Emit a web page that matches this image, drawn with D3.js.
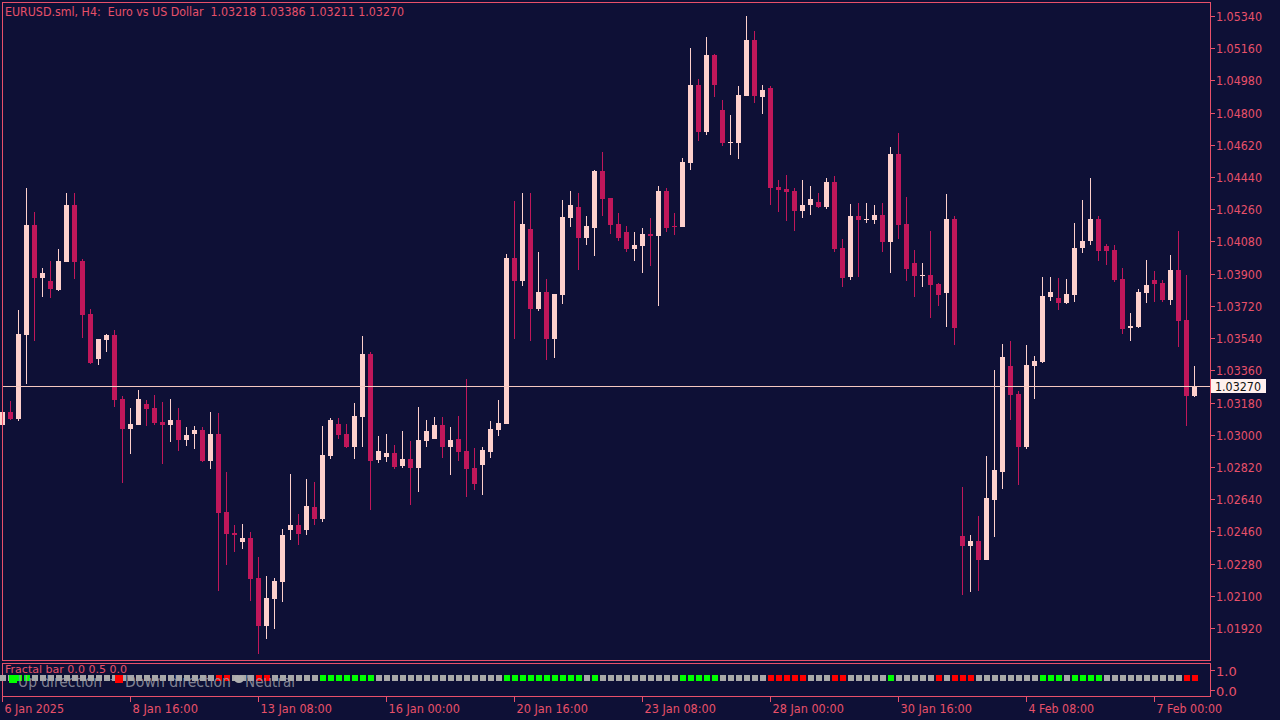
<!DOCTYPE html>
<html><head><meta charset="utf-8">
<script src="https://cdn.jsdelivr.net/npm/d3@7"></script>
<style>body{margin:0;background:#0e1036;}svg{display:block;}</style>
</head><body><svg id="c" width="1280" height="720"></svg>
<script>
const open=[1.03054,1.03127,1.03088,1.03557,1.04172,1.03876,1.03859,1.03809,1.03965,1.04284,
1.03971,1.03674,1.03423,1.03529,1.03557,1.03199,1.03032,1.03054,1.03171,1.03149,
1.03071,1.03054,1.03082,1.02970,1.03004,1.03026,1.02853,1.03004,1.02568,1.02451,
1.02400,1.02423,1.02199,1.01931,1.02082,1.02177,1.02467,1.02495,1.02467,1.02596,
1.02529,1.02881,1.03060,1.03004,1.02931,1.03099,1.03451,1.02859,1.02875,1.02898,
1.02825,1.02864,1.02814,1.02965,1.02976,1.03054,1.02931,1.02976,1.02909,1.02814,
1.02831,1.02903,1.03026,1.03060,1.03987,1.03859,1.04149,1.03702,1.03797,1.03535,
1.03781,1.04211,1.04272,1.04099,1.04155,1.04473,1.04323,1.04177,1.04133,1.04038,
1.04054,1.04121,1.04110,1.04362,1.04166,1.04161,1.04518,1.04954,1.04691,1.05122,
1.04814,1.04633,1.04630,1.04893,1.05206,1.04887,1.04937,1.04384,1.04373,1.04362,
1.04250,1.04284,1.04300,1.04272,1.04412,1.04043,1.03881,1.04222,1.04202,1.04200,
1.04228,1.04077,1.04568,1.04177,1.03959,1.03890,1.03892,1.03842,1.03792,1.04205,
1.02434,1.02378,1.02406,1.02300,1.02635,1.02791,1.03384,1.03227,1.02931,1.03384,
1.03406,1.03769,1.03764,1.03736,1.03781,1.04043,1.04082,1.04205,1.04054,1.04032,
1.03870,1.03596,1.03602,1.03792,1.03864,1.03848,1.03753,1.03920,1.03641,1.03218];
const high=[1.03166,1.03188,1.03697,1.04379,1.04244,1.03931,1.03971,1.04038,1.04351,1.04351,
1.03982,1.03702,1.03535,1.03563,1.03585,1.03216,1.03149,1.03250,1.03194,1.03222,
1.03183,1.03199,1.03149,1.03043,1.03049,1.03043,1.03127,1.03121,1.02791,1.02495,
1.02501,1.02456,1.02316,1.02210,1.02199,1.02473,1.02780,1.02557,1.02752,1.02736,
1.03049,1.03093,1.03093,1.03060,1.03177,1.03551,1.03462,1.02993,1.03004,1.02942,
1.03021,1.02965,1.03155,1.03082,1.03099,1.03099,1.03043,1.03104,1.03311,1.02926,
1.02931,1.03077,1.03194,1.04010,1.04306,1.04351,1.04351,1.04021,1.03870,1.03786,
1.04311,1.04362,1.04351,1.04222,1.04479,1.04580,1.04323,1.04239,1.04166,1.04133,
1.04155,1.04211,1.04390,1.04379,1.04239,1.04546,1.05161,1.04988,1.05222,1.05127,
1.04870,1.04786,1.04948,1.05340,1.05256,1.04954,1.04948,1.04423,1.04451,1.04379,
1.04423,1.04390,1.04351,1.04434,1.04446,1.04094,1.04289,1.04295,1.04295,1.04284,
1.04295,1.04608,1.04686,1.04328,1.04032,1.03959,1.04138,1.03848,1.04345,1.04222,
1.02708,1.02439,1.02546,1.02881,1.03361,1.03507,1.03524,1.03244,1.03501,1.03440,
1.03881,1.03881,1.03876,1.03870,1.04183,1.04311,1.04434,1.04222,1.04066,1.04060,
1.03931,1.03680,1.03814,1.03976,1.03915,1.03864,1.04004,1.04138,1.03892,1.03386];
const low=[1.03054,1.03082,1.03077,1.03283,1.03524,1.03769,1.03764,1.03803,1.03965,1.03870,
1.03540,1.03395,1.03389,1.03462,1.03155,1.02730,1.02892,1.03054,1.03049,1.03054,
1.02836,1.02959,1.02909,1.02937,1.02920,1.02847,1.02808,1.02126,1.02272,1.02344,
1.02361,1.02071,1.01775,1.01858,1.01914,1.02065,1.02412,1.02384,1.02439,1.02495,
1.02512,1.02864,1.02976,1.02926,1.02864,1.02931,1.02579,1.02842,1.02847,1.02808,
1.02814,1.02607,1.02680,1.02931,1.02976,1.02870,1.02775,1.02853,1.02652,1.02691,
1.02663,1.02870,1.02993,1.03060,1.03535,1.03831,1.03524,1.03691,1.03417,1.03429,
1.03730,1.04161,1.03920,1.04060,1.03998,1.04222,1.04121,1.04082,1.04021,1.03971,
1.03904,1.03943,1.03719,1.04133,1.04116,1.04161,1.04479,1.04641,1.04675,1.04887,
1.04613,1.04563,1.04541,1.04893,1.04853,1.04792,1.04284,1.04244,1.04194,1.04138,
1.04211,1.04228,1.04267,1.04261,1.04021,1.03825,1.03864,1.03881,1.04183,1.04177,
1.04021,1.03904,1.04094,1.03859,1.03769,1.03825,1.03652,1.03719,1.03602,1.03501,
1.02104,1.02121,1.02126,1.02300,1.02428,1.02697,1.03082,1.02719,1.02920,1.03199,
1.03401,1.03747,1.03697,1.03730,1.03741,1.04015,1.04060,1.03971,1.03948,1.03853,
1.03563,1.03524,1.03596,1.03736,1.03741,1.03741,1.03725,1.03490,1.03049,1.03211];
const close=[1.03127,1.03088,1.03563,1.04172,1.03876,1.03904,1.03814,1.03971,1.04284,1.03965,
1.03669,1.03401,1.03535,1.03557,1.03194,1.03032,1.03060,1.03199,1.03144,1.03065,
1.03054,1.03082,1.02970,1.02998,1.03026,1.02853,1.03004,1.02562,1.02445,1.02439,
1.02423,1.02193,1.01931,1.02087,1.02182,1.02439,1.02495,1.02445,1.02602,1.02529,
1.02887,1.03082,1.02998,1.02931,1.03104,1.03451,1.02853,1.02909,1.02898,1.02819,
1.02864,1.02814,1.02970,1.03021,1.03054,1.02931,1.02970,1.02903,1.02808,1.02724,
1.02914,1.03032,1.03065,1.03987,1.03859,1.04177,1.03702,1.03797,1.03535,1.03786,
1.04216,1.04284,1.04099,1.04166,1.04473,1.04317,1.04172,1.04099,1.04038,1.04060,
1.04121,1.04110,1.04362,1.04155,1.04161,1.04524,1.04954,1.04691,1.05122,1.04954,
1.04630,1.04636,1.04898,1.05206,1.04893,1.04926,1.04379,1.04367,1.04356,1.04250,
1.04284,1.04317,1.04272,1.04412,1.04038,1.03876,1.04222,1.04200,1.04205,1.04228,
1.04077,1.04568,1.04172,1.03926,1.03887,1.03892,1.03836,1.03781,1.04205,1.03596,
1.02378,1.02406,1.02300,1.02646,1.02803,1.03434,1.03222,1.02931,1.03389,1.03412,
1.03775,1.03797,1.03736,1.03786,1.04043,1.04082,1.04205,1.04026,1.04026,1.03864,
1.03591,1.03607,1.03797,1.03836,1.03842,1.03753,1.03920,1.03635,1.03216,1.03270];
// fractal bar state: 1 up, -1 down, 0 neutral
const fractal=[0,0,1,1,0,0,0,0,0,0, 0,0,0,0,0,0,0,0,0,0, 0,0,0,0,0,0,0,-1,-1,0, 0,0,-1,-1,0,0,0,0,0,0,
1,1,1,1,1,1,1,0,0,0, 0,0,0,0,0,0,0,0,0,0, 0,0,0,1,1,1,1,1,1,1, 1,1,1,0,1,0,0,0,0,0,
0,0,0,0,0,1,1,1,1,1, 0,0,0,0,0,0,-1,-1,-1,-1, -1,0,0,0,-1,-1,0,0,0,0, 0,1,0,0,0,0,0,-1,0,-1,
-1,-1,0,0,0,0,0,0,0,0, 1,1,1,0,1,1,1,1,0,0, 0,0,0,0,0,0,0,0,-1,-1];
const priceTicks=[1.05340,1.05160,1.04980,1.04800,1.04620,1.04440,1.04260,1.04080,1.03900,1.03720,1.03540,1.03360,1.03180,1.03000,1.02820,1.02640,1.02460,1.02280,1.02100,1.01920];
const timeLabels=["6 Jan 2025","8 Jan 16:00","13 Jan 08:00","16 Jan 00:00","20 Jan 16:00","23 Jan 08:00","28 Jan 00:00","30 Jan 16:00","4 Feb 08:00","7 Feb 00:00"];
const timeIdx=[0,16,32,48,64,80,96,112,128,144];
const lastPrice=1.03270;
const title="EURUSD.sml, H4:  Euro vs US Dollar  1.03218 1.03386 1.03211 1.03270";

const BG="#0e1036",BULL="#fdd0cc",BEAR="#c0175a",AX="#e8506a",FONT="'DejaVu Sans Mono', monospace",SANS="'DejaVu Sans', sans-serif";
const svg=d3.select("#c");
svg.append("rect").attr("width",1280).attr("height",720).attr("fill",BG);
const x=d3.scaleLinear().domain([0,149]).range([2.3,1194.3]);
const y=d3.scaleLinear().domain([1.01920,1.05340]).range([628,16]);
const yi=d3.scaleLinear().domain([0,1]).range([690,670]);
const n=open.length, idx=d3.range(n);
const g=svg.append("g").attr("shape-rendering","crispEdges");
g.selectAll(".w").data(idx).join("line")
 .attr("x1",i=>Math.round(x(i))+0.5).attr("x2",i=>Math.round(x(i))+0.5)
 .attr("y1",i=>y(high[i])).attr("y2",i=>y(low[i]))
 .attr("stroke",i=>close[i]>=open[i]?BULL:BEAR).attr("stroke-width",1);
g.selectAll(".b").data(idx).join("rect")
 .attr("x",i=>Math.round(x(i))-2).attr("width",5)
 .attr("y",i=>y(Math.max(open[i],close[i])))
 .attr("height",i=>Math.max(1,Math.abs(y(open[i])-y(close[i]))))
 .attr("fill",i=>close[i]>=open[i]?BULL:BEAR);
g.append("line").attr("x1",2).attr("x2",1210).attr("y1",Math.round(y(lastPrice))+0.5).attr("y2",Math.round(y(lastPrice))+0.5).attr("stroke","#f5c8c0");
g.append("rect").attr("x",2.5).attr("y",2.5).attr("width",1208).attr("height",658).attr("fill","none").attr("stroke",AX);
g.append("rect").attr("x",2.5).attr("y",663.5).attr("width",1208).attr("height",33).attr("fill","none").attr("stroke",AX);
const pa=svg.append("g");
priceTicks.forEach(t=>{
 const yy=Math.round(y(t))+0.5;
 pa.append("line").attr("x1",1210).attr("x2",1215).attr("y1",yy).attr("y2",yy).attr("stroke",AX).attr("shape-rendering","crispEdges");
 pa.append("text").attr("x",1216).attr("y",yy+4).text(t.toFixed(5)).attr("fill",AX).attr("font-size",12).attr("font-family",SANS)
  .attr("textLength",46).attr("lengthAdjust","spacingAndGlyphs");
});
const ly=Math.round(y(lastPrice));
pa.append("rect").attr("x",1211).attr("y",ly-7).attr("width",55).attr("height",14).attr("fill","#fff0ee");
pa.append("text").attr("x",1215).attr("y",ly+4.5).text(lastPrice.toFixed(5)).attr("fill","#111").attr("font-size",12).attr("font-family",SANS)
 .attr("textLength",46).attr("lengthAdjust","spacingAndGlyphs");
[1,0].forEach(v=>{
 const yy=Math.round(yi(v))+0.5;
 pa.append("line").attr("x1",1210).attr("x2",1215).attr("y1",yy).attr("y2",yy).attr("stroke",AX);
 pa.append("text").attr("x",1216).attr("y",yy+5).text(v.toFixed(1)).attr("fill",AX).attr("font-size",13).attr("font-family",SANS);
});
timeIdx.forEach((ti,k)=>{
 const xx=Math.round(x(ti))+0.5;
 svg.append("line").attr("x1",xx).attr("x2",xx).attr("y1",697).attr("y2",702).attr("stroke",AX);
 svg.append("text").attr("x",xx+2).attr("y",713).text(timeLabels[k]).attr("fill",AX).attr("font-size",12.5).attr("font-family",SANS)
  .attr("textLength",timeLabels[k].length*5.95).attr("lengthAdjust","spacingAndGlyphs");
});
const colF=v=>v>0?"#00ff00":v<0?"#ff0000":"#a8a8a8";
g.selectAll(".f").data(idx).join("rect")
 .attr("x",i=>Math.round(x(i))-2).attr("y",675).attr("width",6).attr("height",6)
 .attr("fill",i=>colF(fractal[i]));
svg.append("text").attr("x",5).attr("y",673).text("Fractal bar 0.0 0.5 0.0").attr("fill",AX).attr("font-size",11).attr("font-family",SANS)
 .attr("textLength",122).attr("lengthAdjust","spacingAndGlyphs");
const lg=svg.append("g").attr("font-family",SANS).attr("font-size",16).attr("fill","#a0a0ac").attr("fill-opacity",0.8);
lg.append("rect").attr("x",9).attr("y",675).attr("width",8).attr("height",8).attr("fill","#00ff00").attr("fill-opacity",1);
lg.append("text").attr("x",18).attr("y",687).text("Up direction").attr("textLength",84).attr("lengthAdjust","spacingAndGlyphs");
lg.append("text").attr("x",104).attr("y",684).text("--");
lg.append("rect").attr("x",115).attr("y",675).attr("width",8).attr("height",8).attr("fill","#ff0000").attr("fill-opacity",1);
lg.append("text").attr("x",125).attr("y",687).text("Down direction").attr("textLength",106).attr("lengthAdjust","spacingAndGlyphs");
lg.append("ellipse").attr("cx",239).attr("cy",679).attr("rx",5).attr("ry",4).attr("fill","#b0b0b0").attr("fill-opacity",1);
lg.append("text").attr("x",245).attr("y",687).text("Neutral").attr("textLength",50).attr("lengthAdjust","spacingAndGlyphs");
svg.append("text").attr("x",5).attr("y",16).text(title).attr("fill",AX).attr("font-size",12).attr("font-family",SANS)
 .style("white-space","pre").attr("textLength",399).attr("lengthAdjust","spacingAndGlyphs");
</script></body></html>
